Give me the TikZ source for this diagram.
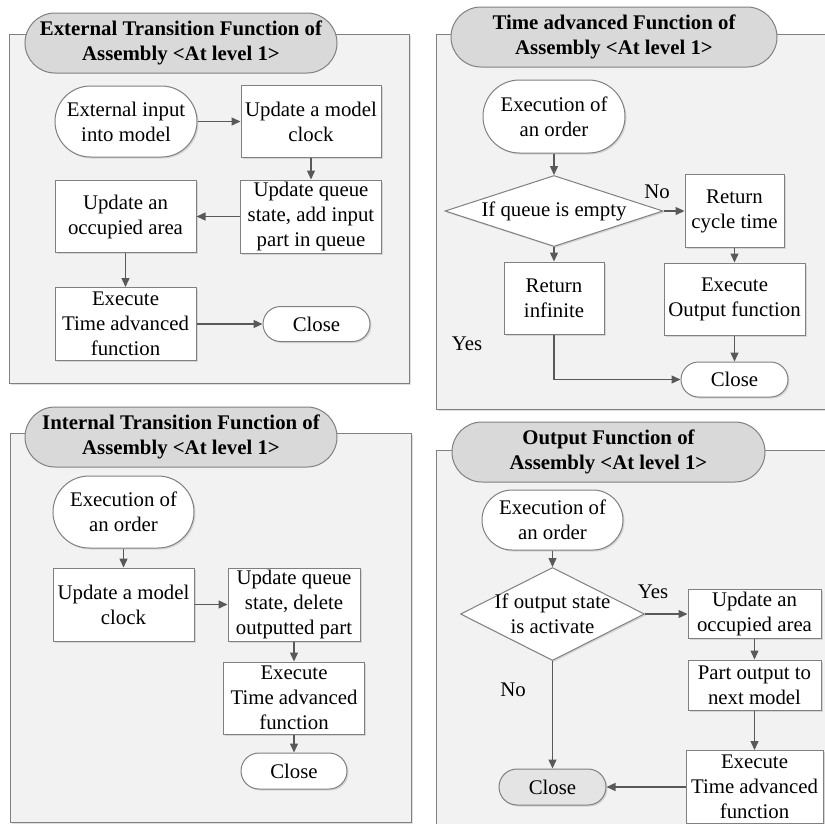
\documentclass[tikz,border=0pt]{standalone}
\usepackage{fontspec}
\setmainfont{Liberation Serif}
\usepackage{tikz}
\usetikzlibrary{positioning, arrows.meta, shapes.geometric, shapes.misc, shadows}

\definecolor{panelfill}{HTML}{F2F2F2}
\definecolor{edgegray}{HTML}{808080}
\definecolor{pillgray}{HTML}{D9D9D9}
\definecolor{arrowgray}{HTML}{595959}

\begin{document}
\begin{tikzpicture}[
    x=1pt, y=-1pt,
    >={Triangle[length=9pt, width=8pt]},
    font=\fontsize{20.8}{25}\selectfont,
    panel/.style={draw=edgegray, fill=panelfill, line width=1pt, drop shadow={shadow xshift=1.5pt, shadow yshift=-1.5pt, opacity=0.25}},
    titlepill/.style={rounded rectangle, draw=edgegray, fill=pillgray, line width=1pt, minimum height=60pt, inner sep=0pt, align=center, font=\fontsize{20.8}{25}\selectfont\bfseries},
    stepbox/.style={rectangle, draw=edgegray, fill=white, line width=1pt, inner sep=0pt, align=center, drop shadow={shadow xshift=1.5pt, shadow yshift=-1.5pt, opacity=0.25}},
    termbox/.style={rounded rectangle, draw=edgegray, fill=white, line width=1pt, inner sep=0pt, align=center, drop shadow={shadow xshift=1.5pt, shadow yshift=-1.5pt, opacity=0.25}},
    decision/.style={diamond, draw=edgegray, fill=white, line width=1pt, inner sep=0pt, drop shadow={shadow xshift=1.5pt, shadow yshift=-1.5pt, opacity=0.25}},
    flow/.style={->, line width=1.3pt, arrowgray},
    yesno/.style={inner sep=0pt},
]
\useasboundingbox (0,0) rectangle (825,823);

% Panel frames
\draw[panel] (9,34) rectangle (409,383);
\draw[panel] (436,34) rectangle (832,409);
\draw[panel] (10,433) rectangle (411,822);
\draw[panel] (436,450) rectangle (832,840);

% External transition function
\node[titlepill, minimum width=312pt] (t1) at (181,43) {External Transition Function of\\Assembly <At level 1>};
\node[termbox, minimum width=142pt, minimum height=71pt] (e1) at (126,121.5) {External input\\into model};
\node[stepbox, minimum width=140pt, minimum height=72pt] (e2) at (311,121.5) {Update a model\\clock};
\node[stepbox, minimum width=141pt, minimum height=73pt] (e3) at (311,216.5) {Update queue\\state, add input\\part in queue};
\node[stepbox, minimum width=141pt, minimum height=72pt] (e4) at (125.5,216.5) {Update an\\occupied area};
\node[stepbox, minimum width=141pt, minimum height=73pt] (e5) at (125.5,324) {Execute\\Time advanced\\function};
\node[termbox, minimum width=107pt, minimum height=35pt] (e6) at (316.5,324) {Close};

% Time advanced function
\node[titlepill, minimum width=326pt] (t2) at (614,37) {Time advanced Function of\\Assembly <At level 1>};
\node[termbox, minimum width=142pt, minimum height=73pt] (a1) at (554,116.5) {Execution of\\an order};
\node[decision, minimum width=218pt, minimum height=71pt, label={center:If queue is empty}] (a2) at (554,211) {};
\node[stepbox, minimum width=99pt, minimum height=73pt] (a3) at (734.5,211) {Return\\cycle time};
\node[stepbox, minimum width=100pt, minimum height=72pt] (a4) at (554,298) {Return\\infinite};
\node[stepbox, minimum width=141pt, minimum height=72pt] (a5) at (734.5,299) {Execute\\Output function};
\node[termbox, minimum width=107pt, minimum height=35pt] (a6) at (734.5,379.5) {Close};
\node[yesno] (ano) at (657,192) {No};
\node[yesno] (ayes) at (467,344) {Yes};

% Internal transition function
\node[titlepill, minimum width=312pt] (t3) at (181,437) {Internal Transition Function of\\Assembly <At level 1>};
\node[termbox, minimum width=141pt, minimum height=72pt] (i1) at (123.5,512) {Execution of\\an order};
\node[stepbox, minimum width=141pt, minimum height=73pt] (i2) at (123.5,604.5) {Update a model\\clock};
\node[stepbox, minimum width=132pt, minimum height=73pt] (i3) at (294,604.5) {Update queue\\state, delete\\outputted part};
\node[stepbox, minimum width=141pt, minimum height=72pt] (i4) at (294,698) {Execute\\Time advanced\\function};
\node[termbox, minimum width=106pt, minimum height=36pt] (i5) at (294,771) {Close};

% Output function
\node[titlepill, minimum width=313pt] (t4) at (608.5,452) {Output Function of\\Assembly <At level 1>};
\node[termbox, minimum width=141pt, minimum height=60pt] (o1) at (552.5,520) {Execution of\\an order};
\node[decision, minimum width=184pt, minimum height=93pt, label={[align=center]center:If output state\\is activate}] (o2) at (552.5,614) {};
\node[stepbox, minimum width=133pt, minimum height=49pt] (o3) at (754.5,614) {Update an\\occupied area};
\node[stepbox, minimum width=133pt, minimum height=50pt] (o4) at (754.5,685) {Part output to\\next model};
\node[stepbox, minimum width=137pt, minimum height=73pt] (o5) at (754.5,787) {Execute\\Time advanced\\function};
\node[termbox, fill=pillgray!70, minimum width=107pt, minimum height=36pt] (o6) at (552.5,787) {Close};
\node[yesno] (oyes) at (653,592) {Yes};
\node[yesno] (ono) at (513,690) {No};

% Arrows
\foreach \a/\b in {e1/e2, e5/e6, a2/a3, i2/i3, o2/o3} {
    \draw[flow] (\a.east) -- (\b.west);
}
\foreach \a/\b in {e3/e4, o5/o6} {
    \draw[flow] (\a.west) -- (\b.east);
}
\foreach \a/\b in {e2/e3, e4/e5, a1/a2, a2/a4, a3/a5, a5/a6, i1/i2, i3/i4, i4/i5, o1/o2, o3/o4, o4/o5, o2/o6} {
    \draw[flow] (\a.south) -- (\b.north);
}
\draw[flow] (a4.south) |- (a6.west);

\end{tikzpicture}
\end{document}
